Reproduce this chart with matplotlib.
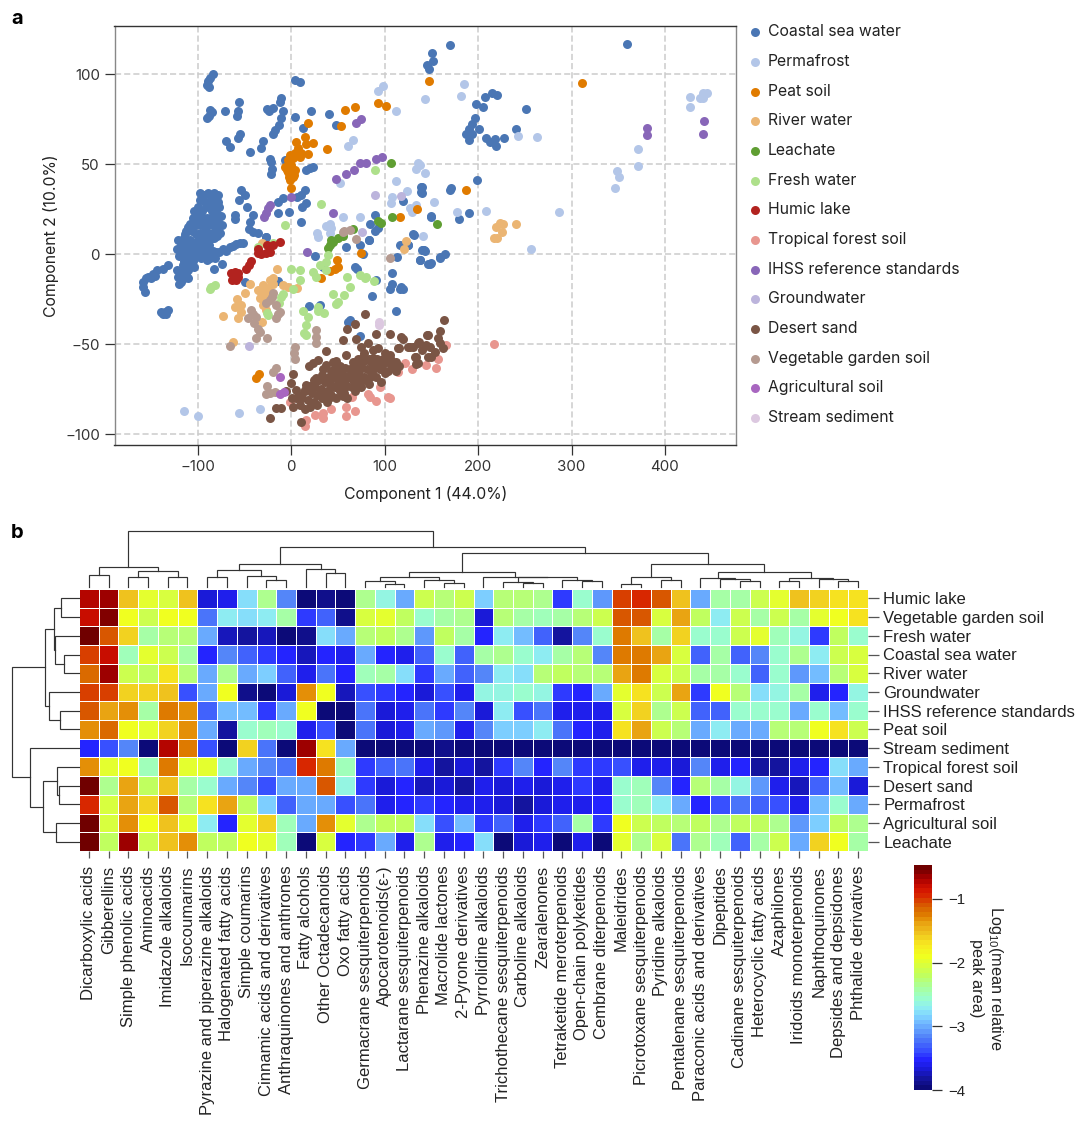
import numpy as np
import matplotlib
matplotlib.use("Agg")
import matplotlib.pyplot as plt
from matplotlib.colors import LinearSegmentedColormap

W, H = 1080, 1122
plt.rcParams['font.family'] = ['Liberation Sans', 'DejaVu Sans']
plt.rcParams['mathtext.default'] = 'regular'
NATURE_FONT = ['Inter', 'DejaVu Sans']

# panel a points
coastal = [(-83.6,100),(-87,97.6),(-89,96),(-90,94),(-88,93),(-87,80),(-85,79),(-88,77),(-90,75.4),(-71,79.7),
    (-55.8,84.7),(-57,79.7),(-58,77),(-69.3,63),(-65.8,59.3),(-55,67),(-57,64.7),(-43.6,56.6),(-32,58.8),(-30,63),
    (-11,86.5),(-11.5,84.7),(-25.8,80.6),(-19.4,81),(-23.6,79.7),(-8.7,79.7),(-10.4,75.4),(-13,71.7),(-17.6,69),(-19.4,66.7),
    (3.8,97),(9,95.4),(3.8,76),(21,79.7),(12.8,70),(40,77.8),(48.5,71.7),(-23,52.9),(-22,51.4),(-6.9,52.3),(-20.4,47.3),
    (-21.9,44.5),(16,46.8),(23.5,48.6),(20,47.7),(14.5,35.6),(11,32.9),(6.3,32),(-8.7,31),(-14,29.2),(16,28.6),(12,26.4),
    (-2,23.6),(-14,22.7),(11,18),(-53.3,35.6),(-49.7,32.9),(-55.8,30),(-46.8,26.4),(-60.4,21.8),(-60.4,19.4),(-40.8,21.8),
    (-43.6,18),(-45,13.8),(-40.8,12.5),(-35.4,11.6),(-26.5,9.8),
    (-97,34),(-89,34),(-83,34),(-78,33),(-97,30),(-92,29),(-85,29),(-78,29),(-100,26),(-95,24),(-85,24),(-80,24),(-75,21),
    (-102,21),(-98,20),(-90,20),(-82,20),(-108,17),(-102,16),(-95,16),(-88,16),(-80,15),(-112,13),(-106,13),(-98,12),(-90,12),
    (-84,12),(-76,12),(-115,9),(-108,8),(-100,8),(-92,8),(-85,9),(-118,5),(-110,5),(-102,4),(-94,4),(-88,5),(-116,1),(-108,1),
    (-100,0),(-92,0),(-84,2),(-110,-0.6),(-108.6,-3.4),(-112,-5.2),(-114,-8),(-117.5,-10.8),(-121,-12.6),(-117.5,-15.4),
    (-120,-16.3),(-113,-11.7),(-108.6,-7),(-105,-0.6),(-99.7,0.4),(-105,-4),(-110,-9),(-115,-4),
    (-132,-6),(-137,-8.5),(-144,-8.9),(-149.7,-13.5),(-155,-13.5),(-158.6,-15.4),(-159,-18.2),(-156.8,-21),(-153,-12.6),
    (-139,-32),(-135.4,-32),(-132,-31),(-137,-33),(-133.6,-33),
    (-92.5,0.3),(-87,0.3),(-80,1.3),(-73,3.1),(-65.8,4),(-58.6,5.5),(-51.5,6.3),(-81.8,-2.4),(-82.9,-8),(-74,-5.2),(-87,-2.4),
    (-82.9,9.2),(-92.5,12.4),(-26.5,9.6),(-49.7,-15.4),(-14,-14.8),(26,-1.1),(34,-7.4),(59,3.7),(73.5,5),(83.4,7.8),(77,0),
    (68,-7.4),(70,-8.5),(91,-14.5),(86,-23),(19,-29),(31,-28),(63,-36.3),(61,-37.6),(74,-45.5),
    (107.4,-10.7),(108.4,-16.3),(105.6,-19.6),(116,-19.6),(120,-19.6),(118,-18.2),(112,-31.7),(131,10.7),(125,5),(138,-3.3),
    (139.5,2.2),(143,1.8),(146.6,-5.2),(113.4,-1.5),(138.6,37.4),(139.3,34.6),(171.5,36.5),(119.7,29.6),(90,22),(84,17),
    (93,14.3),(89.4,12.8),(83.3,7.8),(150,20.7),(130.4,11),(117,5),(125,5),(141,2.3),(137.6,-3.3),(149,-5.2),(159,-1.8),(165,0),
    (179.3,19.8),(190.4,22.6),(169.7,116),(359.7,116.5),(150.8,111.5),(151.9,107.4),(145.5,105),(147.6,102.6),(197.6,83.2),
    (205.4,82),(207,87.4),(214.4,89.3),(220.8,88.2),(251.8,80.8),(196.5,75.8),(193,72.3),(190.4,69.3),(187.6,66.5),(193,67),
    (190.4,63.4),(201,69.3),(208,64.3),(212.6,62.5),(218,63.8),(219,60),(227.6,64.3),(241,69.3),(199,41.2),(169.7,35.6),
    (139.7,37.5),(140,33.8),(150,21),(142,2.4),(159,-2),(149.4,-5),
    # dense core on the left
    (-93,33),(-86,32),(-81,31),(-104,24),(-91,26),(-88,27),(-82,27),(-77,26),(-105,20),(-94,20),(-86,20),(-78,18),(-110,15),(-99,17),
    (-92,16),(-84,16),(-74,16),(-114,11),(-102,11),(-94,11),(-87,11),(-79,10),(-121,8),(-112,7),(-104,6),(-96,6),(-89,7),(-122,3),
    (-114,3),(-106,2),(-98,3),(-90,3),(-120,-1),(-112,-2),(-104,-2),(-96,-2),(-116,-6),(-104,-7),(-110,-13),(-115,-13),(-122,-9),
    (-70,2),(-62,4.5),(-55,6),(-77,1),(-84,-1),(-90,-3),(-148,-11),(-146,-12)]
permafrost = [(426.8,87.5),(426.8,81.5),(437.5,87),(441,89.7),(445.3,89.7),(441,86.5),(371.4,58.4),(371.4,49),(348.2,46.4),
    (350.7,42.7),(346.4,36.6),(262.6,64.9),(243,65.8),(185,94.5),(182,88),(143,86),(286.5,23.6),(256.5,3),(208.3,24),(178,23.4),
    (152.6,28.8),(141.5,10.3),(143.3,45.3),(137.6,49.5),(98,93.4),(93.4,90.6),(112.7,79.3),(66.3,63.4),(61,60),(52,39.7),
    (136,50.5),(134,47.3),(112.7,40.5),(124.5,35),(108,31.6),(106.6,28.3),(127,25.5),(134,27.3),(129,23.6),(55.6,20.9),
    (73.5,20.9),(41.3,17),(37.7,15.7),(43,14.4),(41.3,11.6),(27.8,11.6),(29,9.8),(-115,-87),(-99.7,-90),(-55.8,-88),(-33,-86.2)]
peat = [(18.5,72.6),(57.4,80),(68.5,81.5),(53.8,71),(92.7,84),(102,82.3),(147.2,96.3),(38.8,58.2),(14.5,65),(5.6,62.5),(23.5,62),
    (16.3,61.2),(7.4,58.8),(11,56),(18,55.4),(3.8,56),(-1.5,55),(2,53.2),(-3.3,52.3),(9.2,53.8),(-7,48.6),(0.3,49.5),(3.8,46.7),
    (-3.3,45.8),(2,43),(-1.5,41.2),(0.3,36.6),(-4,47),(3,44),(-2,43),(116.3,20.5),(135,25.3),(310.7,94.9),(186.9,35.5),(49.5,-3),
    (50,-7),(41.3,-9.3),(46.7,-8),(32,-13.5),(75.2,0.7),(-34.4,-66.6),(-38,-69)]
river = [(-30.8,6.3),(-15,-8.5),(-43.6,-16.3),(-49.7,-21.3),(-58,-25),(-53.3,-28.3),(-60.4,-29.6),(-53.3,-32),(-57,-35.7),(-73,-34.3),
    (-62,-48.7),(-22.9,-14.4),(-30,-17.2),(-19.4,-16.3),(-31.9,-20.9),(-26.5,-22.8),(-33.6,-24.6),(-30,-28.3),(-26.5,-31),(-30.8,-37.6),
    (-8.7,-17.2),(-3.3,-18.5),(6.7,-19),(-19.4,-13.5),(-24.7,-19),(-35.4,-20),(122.7,7.2),(120.6,3.1),(223.3,17.5),(226.9,17),
    (219.7,15.3),(226,12.3),(216.9,8.8),(220.4,8.8),(240.8,16.8)]
leachate = [(106.6,50.8),(93,18.6),(108.4,20.5),(156.5,16.8),(41.2,5),(44.8,6.9),(50,8.8),(55.5,10.3),(39.5,3.2),(43,7.8),(66,13.8),(96,17.5)]
fresh = [(89.5,46.8),(31.7,27.7),(-6.9,16.2),(-85.5,-18.4),(-82,-17.1),(-87,-19.3),(-35.5,4),(-19.4,6),(-0.5,-8.2),(9,-9),(9.8,-14.4),
    (23.4,-9.7),(26.3,-12.5),(2,-19.3),(30.5,-6),(37.7,-4.2),(39.5,-0.5),(37.7,-8.8),(60,-12.9),(73.4,-11.6),(78.7,-13.4),(80.5,-12.5),
    (88.7,-14.9),(62.7,-18.4),(44.8,-22),(56.6,-22.7),(50.2,-26.4),(48.4,-27.7),(-10.5,-23.6),(-13,-27.3),(-8.7,-22.1),(12.7,-31.4),
    (18,-34.7),(15.5,-39.3),(13.4,-43.9),(16,-44.9),(28.8,-29.2),(28.8,-31.4),(35.2,-32.9),(-25.9,-32.9),(-25,-34)]
humic = [(-11.5,6.8),(-25.8,5),(-19.4,5),(-35.4,3.1),(-26.5,0.4),(-31.9,0),(-35.4,0.4),(-23,1.3),(-42.6,-3.7),(-45,-6.1),(-48,-8.5),
    (-64,-10.4),(-56.9,-10.4),(-60.4,-12.6),(-63,-14.4),(-58.6,-14.4),(-57,-12.5),(-60.4,-10)]
tropical = [(121.6,-60.3),(128.8,-64),(144.8,-61.3),(82.4,-77.4),(84,-79.2),(90.6,-81.4),(103.8,-79.2),(105.5,-80),(58.5,-84.8),(68,-87),
    (58.5,-89.7),(43,-86.2),(34,-88.5),(25.3,-89.4),(34,-91.2),(16.3,-92.2),(14.5,-95.5),(-1.5,-82.3),(65.6,-79.2),(95,-73.6),
    (114.5,-65.3),(216.8,-50.1),(155.4,-63.4),(157.2,-58.2),(166,-50.5)]
ihss = [(381,69.9),(381,66.4),(442,74),(440.3,66.7),(74.5,74.9),(69.2,72.6),(96.7,53.8),(91.3,52.7),(80.6,50.8),(73.5,50.4),(67,46.8),
    (59.2,44.5),(48.5,41.6),(0.3,32),(-23,27.3),(-24.7,25.5),(-27,22.7),(-29.4,20.9),(44.9,22.7),(17.3,1)]
groundwater = [(90.2,32.9),(117.4,32.5),(76,12.5),(-45,-50.9)]
desert = [(78.8,-33.3),(68,-38.9),(59.9,-41.6),(55.6,-47.7),(69.9,-47.4),(82.4,-49.6),(90.6,-44.4),(105.6,-44.6),(118,-45.9),(120,-47),
    (145.6,-45),(114.5,-52.4),(125.2,-51.8),(136,-49.6),(139.5,-53.3),(130.6,-51.8),(148.4,-51.5),(146.6,-57),(134,-57.4),(134,-61.2),
    (75.2,-51.5),(87.7,-53.3),(93,-52.4),(77,-57),(87.7,-57.9),(37,-53.7),(58.5,-56),(48.5,-59.2),(28.8,-58.9),(23.5,-60.7),(18.8,-62.2),
    (37.8,-61.6),(2,-66.6),(0.3,-71.8),(5.6,-75.5),(-5,-75.9),(27,-69),(25.3,-70.9),(16.3,-72.7),(14.5,-75.5),(-15.8,-85.7),(-10.4,-85.3),
    (-22.2,-90.9),(10.3,-93),(2,-84.8),(1.3,-80.1),(5.6,-80.1),
    (10,-84),(15,-86),(20,-85),(12,-80),(18,-81),(24,-82),(28,-84),(15,-76),(22,-77),(28,-78),(33,-80),(38,-82),(26,-74),(32,-75),(38,-76),
    (43,-78),(48,-80),(30,-70),(36,-71),(42,-72),(47,-74),(52,-76),(57,-77),(40,-68),(45,-69),(50,-70),(55,-71),(60,-73),(46,-64),(51,-66),
    (56,-67),(61,-68),(66,-70),(71,-72),(52,-62),(58,-63),(63,-64),(68,-66),(73,-67),(78,-68),(83,-72),(66,-60),(71,-62),(76,-63),(81,-64),
    (86,-66),(91,-68),(96,-71),(72,-58),(80,-59),(85,-60),(90,-62),(95,-64),(100,-66),(78,-55),(98,-58),(103,-60),(108,-62),(112,-65),
    (100,-55),(106,-56),(112,-60),(94,-60),(104,-65),(60,-80),(68,-76),(75,-74),(34,-64),(33,-67),(45,-60),(163.6,-36.8),(159,-42.7),
    (157.2,-46.8),(146.5,-44.9),(115,-52.3),(136.8,-49),(144.7,-50.5),(126.8,-51.4),(153.6,-54.2),(150,-57),(132.2,-57),(135.8,-60.6),
    (162.6,-52.3),(159,-49.6),(8,-78),(20,-73),(24,-70),(35,-78),(44,-74),(52,-73),(58,-70),(64,-66),(70,-64),(76,-60),(83,-58),(92,-58),
    (88,-64),(79,-70),(73,-70),(65,-74),(55,-79),(41,-80),(49,-67),(43,-65),(84,-68),(97,-62),(107,-59),(115,-62)]
vegetable = [(57,13),(62.7,13.4),(55.5,12.5),(69.1,8.2),(106.2,-2),(-40.8,-33),(-42.6,-31),(-46,-35.7),(-37.2,-34.8),(-40,-38.5),(-35.4,-41.3),
    (-33.6,-43.1),(-37.2,-46.8),(-25.8,-46.8),(-65,-50.9),(-19.4,-21.8),(-22.9,-25.5),(-26.5,-27.4),(-21,-23.7),(-15.8,-28.3),(-11.5,-32),
    (-15.8,-35.7),(-14,-33),(27,-42.2),(27,-45.9),(27,-49.2),(3.8,-51.5),(3,-54.8),(4.6,-58.5),(-15.8,-63.5),(-19.4,-65.3),(-25.4,-73.1),
    (-22.9,-77.3),(-17.6,-76.4),(-26.5,-77.7)]
agricultural = [(-12.2,-68.1),(-11.5,-77.7),(-7.9,-76.8)]
stream = [(94,-39.4),(94,-37.6)]

groups = ['Coastal sea water', 'Permafrost', 'Peat soil', 'River water', 'Leachate', 'Fresh water', 'Humic lake',
          'Tropical forest soil', 'IHSS reference standards', 'Groundwater', 'Desert sand',
          'Vegetable garden soil', 'Agricultural soil', 'Stream sediment']
group_points = [coastal, permafrost, peat, river, leachate, fresh, humic, tropical, ihss, groundwater, desert,
                vegetable, agricultural, stream]
group_colors = ['#4a76b4', '#b3c6e8', '#e07b00', '#ebb573', '#5f9e32', '#aee08b', '#b2231f', '#e8968f', '#8866b8',
                '#bcb4dc', '#7a5545', '#b59a90', '#a866c0', '#dcc8e0']

# panel b, log10 values per row
humic_lake = [-.7,-.62,-1.55,-1.95,-2.05,-1.55,-3.7,-3.6,-2.8,-2.35,-3.15,-3.95,-3.9,-3.95,-2.35,-2.65,-3,-2.1,-2.3,-2.15,-2.85,
    -2.3,-2.25,-2.35,-3.45,-2.55,-3.05,-1,-.95,-1.1,-1.55,-3,-2.45,-2.45,-2.15,-1.95,-1.55,-1.6,-1.7,-1.65]
vegetable_garden = [-.8,-.6,-1.88,-2.1,-1.9,-1.88,-3.25,-2.72,-2.8,-2.72,-2.42,-3.45,-3.3,-3.9,-2.08,-2,-2.2,-2.55,-2.42,-2.35,-3.65,
    -2.3,-2.4,-2.5,-2.42,-2.28,-2.15,-1.08,-1.1,-2.08,-1.42,-2.2,-2.7,-2.15,-2.4,-2.12,-2.45,-1.95,-1.9,-1.72]
fresh_water = [-.5,-1.12,-1.6,-2.42,-2.25,-2.25,-3,-3.75,-3.85,-3.72,-3.95,-3.88,-2.8,-3,-2.28,-2.22,-2.38,-3.05,-2.22,-2.45,-3.55,
    -2.68,-2.95,-3.28,-3.85,-3.12,-2.55,-1.25,-1.5,-2.45,-1.6,-2.55,-2.55,-2.12,-2,-2.47,-2.65,-3.45,-2.22,-2.55]
coastal_sea = [-1,-.8,-2.52,-2,-2.12,-2.45,-3.55,-3.18,-3.28,-3.45,-3.52,-3.72,-3.55,-3.6,-3,-3.5,-3.6,-3.3,-2.55,-3.28,-2.45,
    -2.38,-2.58,-2.72,-2.4,-2.25,-3.18,-1.25,-1.22,-1.4,-2.08,-3.28,-2.4,-3.28,-3.18,-2.55,-2.35,-2.68,-2.1,-2.08]
river_water = [-1.15,-.65,-2.12,-2.18,-1.72,-2.25,-3,-2.35,-2.98,-2.88,-3.3,-3.6,-3.25,-3.5,-2.52,-2.45,-2.8,-3.42,-3.02,-3.28,-3.15,
    -2.7,-2.78,-2.3,-2.18,-2.25,-2.3,-1.38,-1.25,-2.05,-2.12,-2.4,-2.45,-2.58,-3.28,-2.58,-3.08,-2.95,-2.25,-2.08]
groundwater_row = [-1,-1,-1.6,-1.58,-1.56,-3.38,-3,-1.88,-3.88,-3.95,-3.65,-1.3,-1.88,-3.75,-3.35,-3.42,-3.5,-3.7,-3.38,-3.58,-2.62,
    -2.62,-2.55,-2.62,-3.42,-3.52,-3,-1.95,-1.72,-2.12,-1.38,-3.45,-1.88,-2.28,-2.75,-2.62,-2.42,-3.58,-3.5,-2.62]
ihss_row = [-1.1,-1.42,-1.3,-2.42,-1.25,-1.3,-3.28,-2.92,-2.92,-3.42,-3,-1.92,-3.95,-3.95,-3.2,-3.65,-3.6,-3.2,-3.42,-3.15,-3.65,
    -2.68,-3.38,-3.22,-3.62,-3.62,-3.62,-2.05,-1.58,-2.38,-2.12,-3.28,-3.3,-2.58,-2.55,-2.58,-3,-2.58,-2.95,-2.58]
peat_soil = [-1.3,-1.15,-1.88,-2,-1.62,-1.35,-3,-3.82,-2.55,-2.48,-2.55,-3.6,-3.38,-3.95,-3.2,-3.68,-3.62,-3,-3.1,-3.58,-3.15,
    -2.85,-2.88,-2.7,-3.25,-3.52,-3.62,-1.65,-1.38,-2.12,-2.25,-3,-2.7,-3,-2.98,-2.25,-2.3,-1.88,-1.7,-2.12]
stream_sediment = [-3.52,-3.38,-3.15,-3.95,-.75,-1.25,-3.38,-3.97,-1.58,-3.22,-3.97,-.65,-1.72,-2.98,-3.97,-3.97,-3.97,-3.97,-3.88,-3.97,-3.95,
    -3.97,-3.97,-3.97,-3.97,-3.97,-3.97,-3.97,-3.97,-3.97,-3.97,-3.97,-3.97,-3.97,-3.97,-3.97,-3.97,-3.97,-3.97,-3.97]
tropical_soil = [-1.3,-2,-1.88,-2.52,-1.22,-2,-2,-2.55,-3,-3.15,-3.2,-.93,-1.25,-2.48,-3.42,-3.32,-3.2,-3.6,-3.78,-3.65,-3.85,
    -3.45,-3.15,-3.55,-3.15,-3.45,-3.48,-3.38,-3.6,-3.62,-3.66,-3.15,-3.62,-3.55,-3.78,-3.8,-3.62,-3.5,-2.82,-3.03]
desert_sand = [-.5,-2.35,-1.42,-2.18,-1.52,-2.45,-2.55,-3.03,-3.15,-3.38,-2.98,-3,-1.12,-2.62,-3.42,-3.65,-3.52,-3.72,-3.68,-3.85,-3.6,
    -3.66,-3.62,-3.66,-3.62,-3.42,-3.58,-2.53,-2.47,-3.15,-3.5,-2.28,-2.45,-2.62,-3.08,-3.62,-3.75,-3.3,-2.9,-3.65]
permafrost_row = [-.93,-2.05,-1.38,-1.62,-1.12,-2.3,-1.72,-1.42,-2.18,-2.88,-3.3,-3.02,-3.02,-3.38,-3.25,-3.58,-3.5,-3.42,-3.5,-3.58,-3.62,
    -3.65,-3.85,-3.66,-3.62,-3.6,-3.55,-2.58,-2.48,-2.72,-3,-3.5,-3.38,-3.2,-3.28,-3.35,-3.62,-2.92,-2.58,-3]
agricultural_soil = [-.5,-2.05,-1.3,-1.88,-1.52,-1.95,-2.68,-3.55,-2,-1.62,-2.48,-3.02,-1.3,-1.95,-2.38,-2.22,-2.18,-2.82,-3.38,-2.92,-3.48,
    -3.3,-3.6,-3.42,-3.3,-2.42,-3.42,-1.88,-2.12,-2.2,-2.3,-2.2,-2.38,-2.22,-2.22,-2.38,-3.05,-2.85,-2.22,-2.35]
leachate_row = [-.5,-2.18,-.65,-2.1,-1.52,-1.32,-2.22,-2.22,-1.88,-2,-2.52,-3.95,-2.08,-3.52,-3.48,-3,-3.62,-2.38,-3.62,-3.52,-2.82,
    -3.95,-3.68,-3.62,-3.95,-3.62,-3.95,-1.95,-2.32,-2.08,-3.2,-2.32,-2.52,-3.3,-2.42,-2.12,-3.03,-1.62,-1.88,-2.42]

row_labels = ['Humic lake', 'Vegetable garden soil', 'Fresh water', 'Coastal sea water', 'River water', 'Groundwater',
              'IHSS reference standards', 'Peat soil', 'Stream sediment', 'Tropical forest soil', 'Desert sand',
              'Permafrost', 'Agricultural soil', 'Leachate']
col_labels = ['Dicarboxylic acids', 'Gibberellins', 'Simple phenolic acids', 'Aminoacids', 'Imidazole alkaloids', 'Isocoumarins',
              'Pyrazine and piperazine alkaloids', 'Halogenated fatty acids', 'Simple coumarins', 'Cinnamic acids and derivatives',
              'Anthraquinones and anthrones', 'Fatty alcohols', 'Other Octadecanoids', 'Oxo fatty acids', 'Germacrane sesquiterpenoids',
              'Apocarotenoids(ε-)', 'Lactarane sesquiterpenoids', 'Phenazine alkaloids', 'Macrolide lactones', '2-Pyrone derivatives',
              'Pyrrolidine alkaloids', 'Trichothecane sesquiterpenoids', 'Carboline alkaloids', 'Zearalenones', 'Tetraketide meroterpenoids',
              'Open-chain polyketides', 'Cembrane diterpenoids', 'Maleidrides', 'Picrotoxane sesquiterpenoids', 'Pyridine alkaloids',
              'Pentalenane sesquiterpenoids', 'Paraconic acids and derivatives', 'Dipeptides', 'Cadinane sesquiterpenoids',
              'Heterocyclic fatty acids', 'Azaphilones', 'Iridoids monoterpenoids', 'Naphthoquinones', 'Depsides and depsidones',
              'Phthalide derivatives']

# dendrograms as (merge height, left, right), leaves are positions in the heatmap
col_tree = (55.7,
    (19.7, (12.3, 0, 1), (16.3, (10, 2, 3), (10, 4, 5))),
    (40.3,
        (23, (16.7, (10, 6, 7), (10.7, 8, (7.3, 9, 10))), (18.3, 11, (14.3, 12, 13))),
        (33.7,
            (14.7,
                (9.7, (5.7, 14, (3.3, 15, 16)), (7.3, 17, (4.3, 18, 19))),
                (10, 20, (9.7, (4.7, 21, (3.7, 22, 23)), (6.7, 24, (6.3, 25, 26))))),
            (23,
                (9.7, (3.3, 27, 28), (7.3, 29, 30)),
                (15.3,
                    (9, 31, (8, 32, (5.7, 33, 34))),
                    (9.3, (6.3, 35, 36), (8.3, 37, (6.3, 38, 39))))))))
row_tree = (66.7,
    (33.7,
        (24.7, (18, 0, 1), (24, 2, (14.7, 3, 4))),
        (30.3, 5, (19, 6, 7))),
    (49.3, 8,
        (35.7, (21.7, 9, (20, 10, 11)), (23.3, 12, 13))))

cmap_values = [-4, -3.85, -3.7, -3.55, -3.4, -3.2, -3, -2.85, -2.7, -2.55, -2.4, -2.2, -2.05, -1.9, -1.7, -1.55,
               -1.35, -1.25, -1.1, -1, -.9, -.8, -.65, -.5, -.47]
cmap_colors = ['#0c0a78', '#14149e', '#1a1ad8', '#2424ff', '#3850ff', '#5080f8', '#6cb0ff', '#80d4ff', '#90f0f0', '#9cffc8',
               '#a8ffa0', '#c0ff60', '#d8ff40', '#f0ff20', '#f8e820', '#f0c820', '#e8a010', '#e08000', '#d86000', '#d84000',
               '#d82000', '#d01000', '#a80000', '#700000', '#700000']


def px_rect(left, top, right, bottom):
    return [left / W, 1 - bottom / H, (right - left) / W, (bottom - top) / H]


def draw_tree(ax, node, horizontal):
    # returns leaf position and height of the node
    if not isinstance(node, tuple):
        return node + 0.5, 0
    h, a, b = node
    pa, ha = draw_tree(ax, a, horizontal)
    pb, hb = draw_tree(ax, b, horizontal)
    xs, ys = [pa, pa, pb, pb], [ha, h, h, hb]
    if horizontal:
        xs, ys = ys, xs
    ax.plot(xs, ys, color='#333333', lw=0.85, solid_joinstyle='miter', clip_on=False)
    return (pa + pb) / 2, h


fig = plt.figure(figsize=(W / 100, H / 100), dpi=100)

# panel a
ax = fig.add_axes(px_rect(114.5, 25.5, 736, 445))
for name, pts, col in zip(groups, group_points, group_colors):
    xs = [p[0] for p in pts]
    ys = [p[1] for p in pts]
    ax.scatter(xs, ys, s=42, color=col, linewidths=0, zorder=3, label=name)
ax.set_xlim(-189, 476)
ax.set_ylim(-106, 127)
ax.set_xticks([-100, 0, 100, 200, 300, 400])
ax.set_yticks([-100, -50, 0, 50, 100])
ax.grid(True, color='#cccccc', lw=1.1, ls=(0, (4, 2)), zorder=1)
ax.set_axisbelow(True)
ax.tick_params(length=7.5, width=0.9, labelsize=10.8, color='#333333', labelcolor='#333333', pad=3)
for lab in ax.get_xticklabels() + ax.get_yticklabels():
    lab.set_fontfamily(NATURE_FONT)
for side in ['left', 'right']:
    ax.spines[side].set_color('#888888')
    ax.spines[side].set_linewidth(1.0)
for side in ['top', 'bottom']:
    ax.spines[side].set_color('#333333')
    ax.spines[side].set_linewidth(1.0)
ax.set_xlabel('Component 1 (44.0%)', fontsize=11.35, family=NATURE_FONT, color='#222222', labelpad=9)
ax.set_ylabel('Component 2 (10.0%)', fontsize=11.35, family=NATURE_FONT, color='#222222', labelpad=4)
leg = ax.legend(loc='upper left', bbox_to_anchor=(745.8 / W, 1 - 24.5 / H), bbox_transform=fig.transFigure,
                frameon=False, labelspacing=0.93, handletextpad=0.2, handlelength=1.2, borderpad=0, borderaxespad=0,
                prop={'family': NATURE_FONT, 'size': 11.35}, scatterpoints=1, markerscale=1.0)
for txt in leg.get_texts():
    txt.set_color('#222222')

# panel b
heat = np.array([humic_lake, vegetable_garden, fresh_water, coastal_sea, river_water, groundwater_row, ihss_row, peat_soil,
                 stream_sediment, tropical_soil, desert_sand, permafrost_row, agricultural_soil, leachate_row])
span = cmap_values[-1] - cmap_values[0]
cmap_pos = [(v - cmap_values[0]) / span for v in cmap_values]
cmap = LinearSegmentedColormap.from_list('pale_jet', list(zip(cmap_pos, cmap_colors)), N=48)

hm = fig.add_axes(px_rect(79, 589, 868, 851))
mesh = hm.pcolormesh(heat, cmap=cmap, vmin=-4, vmax=-0.47, edgecolors='white', linewidth=0.7)
hm.set_xlim(0, heat.shape[1])
hm.set_ylim(heat.shape[0], 0)
for side in hm.spines.values():
    side.set_visible(False)
hm.set_xticks(np.arange(heat.shape[1]) + 0.5)
hm.set_xticklabels(col_labels, rotation=90, fontsize=12, color='#222222')
hm.set_yticks(np.arange(heat.shape[0]) + 0.5)
hm.set_yticklabels(row_labels, fontsize=12, color='#222222')
hm.yaxis.tick_right()
hm.tick_params(axis='x', length=5, width=0.9, color='#555555', pad=5.5)
hm.tick_params(axis='y', length=8, width=0.9, color='#555555', pad=3)

top = fig.add_axes(px_rect(79, 530, 868, 587))
draw_tree(top, col_tree, False)
top.set_xlim(0, heat.shape[1])
top.set_ylim(0, 57)
top.axis('off')

left = fig.add_axes(px_rect(10, 589, 79, 851))
draw_tree(left, row_tree, True)
left.set_xlim(69, 0)
left.set_ylim(heat.shape[0], 0)
left.axis('off')

cax = fig.add_axes(px_rect(914, 865, 932, 1090))
cb = fig.colorbar(mesh, cax=cax)
cb.set_ticks([-4, -3, -2, -1])
cb.outline.set_visible(False)
cb.ax.tick_params(length=7, width=0.9, labelsize=10.8, color='#333333', labelcolor='#222222', pad=5)
fig.text(987 / W, 1 - 978 / H, 'Log$_{10}$(mean relative\npeak area)', rotation=-90, ha='center', va='center',
         fontsize=11.7, color='#222222', linespacing=1.15, multialignment='center')

fig.text(11 / W, 1 - 19 / H, 'a', fontsize=14.5, fontweight='bold', va='center', family=NATURE_FONT)
fig.text(11 / W, 1 - 533 / H, 'b', fontsize=14.5, fontweight='bold', va='center', family=NATURE_FONT)

fig.savefig('out.png', dpi=100)
